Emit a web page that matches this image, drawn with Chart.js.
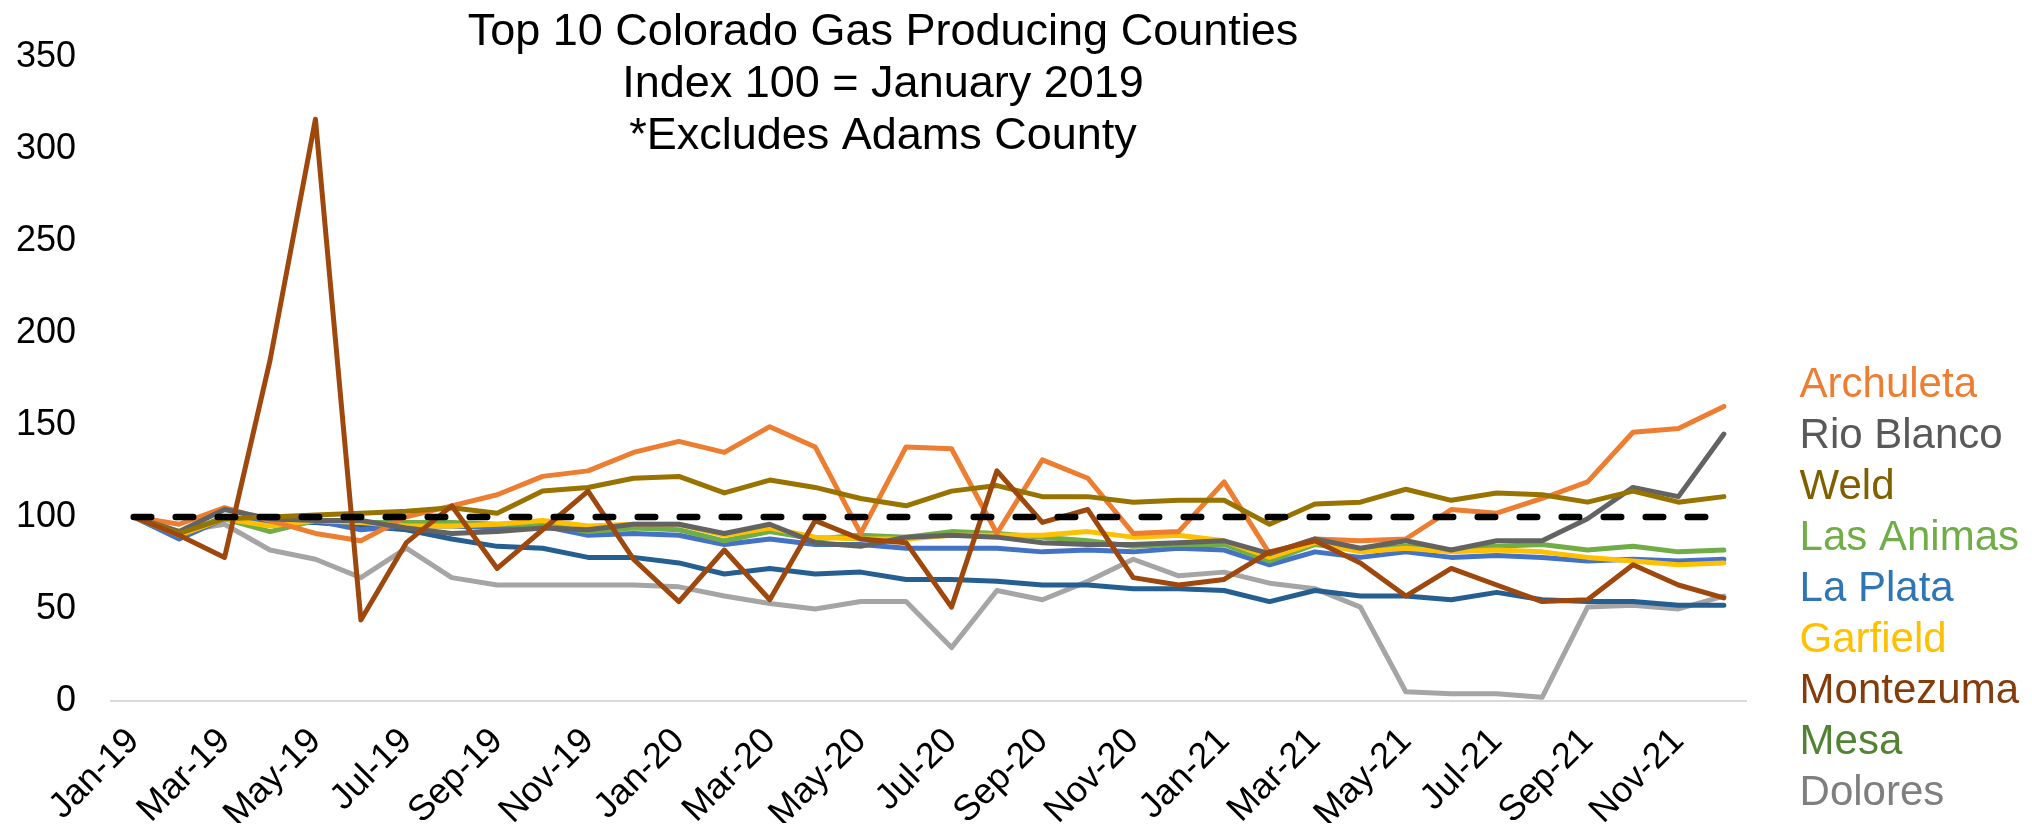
<!DOCTYPE html>
<html>
<head>
<meta charset="utf-8">
<script src="https://cdn.jsdelivr.net/npm/chart.js@4.4.1/dist/chart.umd.min.js"></script>
<style>
  html, body { margin: 0; padding: 0; background: #fff; }
  #wrap { width: 2032px; height: 832px; position: relative; }
</style>
</head>
<body>
<div id="wrap"><canvas id="chart"></canvas></div>
<script>
const months = [
  'Jan-19', 'Feb-19', 'Mar-19', 'Apr-19', 'May-19', 'Jun-19', 'Jul-19', 'Aug-19', 'Sep-19', 'Oct-19', 'Nov-19', 'Dec-19',
  'Jan-20', 'Feb-20', 'Mar-20', 'Apr-20', 'May-20', 'Jun-20', 'Jul-20', 'Aug-20', 'Sep-20', 'Oct-20', 'Nov-20', 'Dec-20',
  'Jan-21', 'Feb-21', 'Mar-21', 'Apr-21', 'May-21', 'Jun-21', 'Jul-21', 'Aug-21', 'Sep-21', 'Oct-21', 'Nov-21', 'Dec-21'
];

const titleLines = ['Top 10 Colorado Gas Producing Counties', 'Index 100 = January 2019', '*Excludes Adams County'];

const archuleta = [100, 96, 105, 98, 91, 87, 100, 106, 112, 122, 125, 135, 141, 135, 149, 138, 91, 138, 137, 91, 131, 121, 91, 92, 119, 80, 88, 87, 88, 104, 102, 110, 119, 146, 148, 160];
const rioBlanco = [100, 92, 104, 99, 98, 98, 94, 91, 92, 94, 93, 96, 96, 91, 96, 86, 84, 89, 90, 89, 86, 85, 85, 86, 87, 80, 88, 83, 87, 82, 87, 87, 99, 116, 111, 145];
const weld = [100, 91, 99, 100, 101, 102, 103, 105, 102, 114, 116, 121, 122, 113, 120, 116, 110, 106, 114, 117, 111, 111, 108, 109, 109, 96, 107, 108, 115, 109, 113, 112, 108, 114, 108, 111];
const lasAnimas = [100, 92, 99, 92, 98, 97, 97, 97, 96, 96, 92, 94, 93, 87, 92, 88, 90, 89, 92, 91, 89, 87, 84, 85, 85, 76, 85, 82, 84, 82, 84, 85, 82, 84, 81, 82];
const laPlata = [100, 88, 99, 97, 98, 93, 95, 95, 94, 95, 90, 91, 90, 85, 88, 85, 85, 83, 83, 83, 81, 82, 81, 83, 82, 74, 81, 78, 81, 78, 79, 78, 76, 77, 76, 77];
const garfield = [100, 90, 99, 95, 98, 97, 95, 95, 96, 98, 95, 96, 96, 90, 94, 89, 88, 88, 90, 90, 90, 92, 89, 90, 87, 78, 86, 81, 83, 81, 82, 81, 78, 76, 74, 75];
const montezuma = [100, 90, 78, 185, 316, 44, 86, 106, 72, 93, 114, 77, 54, 82, 55, 98, 88, 86, 51, 125, 97, 104, 67, 63, 66, 81, 87, 75, 57, 72, 63, 54, 55, 74, 63, 56];
const mesa = [100, 90, 100, 97, 97, 95, 93, 88, 84, 83, 78, 78, 75, 69, 72, 69, 70, 66, 66, 65, 63, 63, 61, 61, 60, 54, 60, 57, 57, 55, 59, 55, 54, 54, 52, 52];
const dolores = [100, 92, 96, 82, 77, 67, 83, 67, 63, 63, 63, 63, 62, 57, 53, 50, 54, 54, 29, 60, 55, 65, 77, 68, 70, 64, 61, 51, 5, 4, 4, 2, 51, 52, 50, 57];
const baseIndex = months.map(() => 100);

// legend order, line colour, legend text colour, draw order (lower = on top)
const counties = [
  { name: 'Archuleta', values: archuleta, line: '#ED7D31', text: '#ED7D31', order: 4 },
  { name: 'Rio Blanco', values: rioBlanco, line: '#636363', text: '#595959', order: 3 },
  { name: 'Weld', values: weld, line: '#997300', text: '#7F6000', order: 2 },
  { name: 'Las Animas', values: lasAnimas, line: '#70AD47', text: '#70AD47', order: 6 },
  { name: 'La Plata', values: laPlata, line: '#4472C4', text: '#2E75B6', order: 7 },
  { name: 'Garfield', values: garfield, line: '#FFC000', text: '#FFC000', order: 5 },
  { name: 'Montezuma', values: montezuma, line: '#9E480E', text: '#843C0C', order: 1 },
  { name: 'Mesa', values: mesa, line: '#255E91', text: '#548235', order: 8 },
  { name: 'Dolores', values: dolores, line: '#A5A5A5', text: '#7F7F7F', order: 9 }
];

const FONT = '"Liberation Sans", Arial, sans-serif';

const datasets = counties.map(c => ({
  label: c.name,
  data: c.values,
  borderColor: c.line,
  backgroundColor: c.line,
  borderWidth: 5,
  borderJoinStyle: 'round',
  borderCapStyle: 'round',
  pointRadius: 0,
  tension: 0,
  fill: false,
  order: c.order
}));

datasets.push({
  label: 'Index',
  data: baseIndex,
  borderColor: '#000000',
  borderWidth: 6.5,
  borderDash: [17.5, 24.5],
  borderCapStyle: 'round',
  pointRadius: 0,
  fill: false,
  order: 0
});

// three-line title, centred over the plot like the original
const stackedTitle = {
  id: 'stackedTitle',
  afterDraw(chart) {
    const ctx = chart.ctx;
    ctx.save();
    ctx.font = '45px ' + FONT;
    ctx.fillStyle = '#000000';
    ctx.textAlign = 'center';
    ctx.textBaseline = 'alphabetic';
    titleLines.forEach((line, i) => ctx.fillText(line, 883, 45 + i * 52));
    ctx.restore();
  }
};

new Chart(document.getElementById('chart'), {
  type: 'line',
  data: { labels: months, datasets: datasets },
  plugins: [stackedTitle],
  options: {
    responsive: true,
    maintainAspectRatio: false,
    animation: false,
    layout: { padding: { top: 54, left: 16, right: 3, bottom: 9 } },
    plugins: {
      title: { display: false },
      tooltip: { enabled: false },
      legend: {
        position: 'right',
        align: 'end',
        labels: {
          boxWidth: 23,
          padding: 9,
          font: { family: FONT, size: 42 },
          generateLabels: () => counties.map((c, i) => ({
            text: c.name,
            fontColor: c.text,
            fillStyle: 'rgba(0,0,0,0)',
            strokeStyle: 'rgba(0,0,0,0)',
            lineWidth: 0,
            hidden: false,
            datasetIndex: i
          }))
        }
      }
    },
    scales: {
      x: {
        offset: true,
        grid: { display: false, drawTicks: false },
        border: { display: true, color: '#D9D9D9', width: 2 },
        afterFit: (scale) => {
          scale.height = 122;
          scale.paddingLeft = 0;
          scale.paddingRight = 0;
        },
        ticks: {
          autoSkip: false,
          maxRotation: 45,
          minRotation: 45,
          padding: 19,
          color: '#000000',
          font: { family: FONT, size: 36 },
          callback: function (value, index) {
            return index % 2 === 0 ? this.getLabelForValue(value) : '';
          }
        }
      },
      y: {
        min: 0,
        max: 350,
        grid: { display: false, drawTicks: false },
        border: { display: false },
        afterFit: (scale) => { scale.width = 95; },
        ticks: {
          stepSize: 50,
          padding: 35,
          color: '#000000',
          font: { family: FONT, size: 36 }
        }
      }
    }
  }
});
</script>
</body>
</html>
